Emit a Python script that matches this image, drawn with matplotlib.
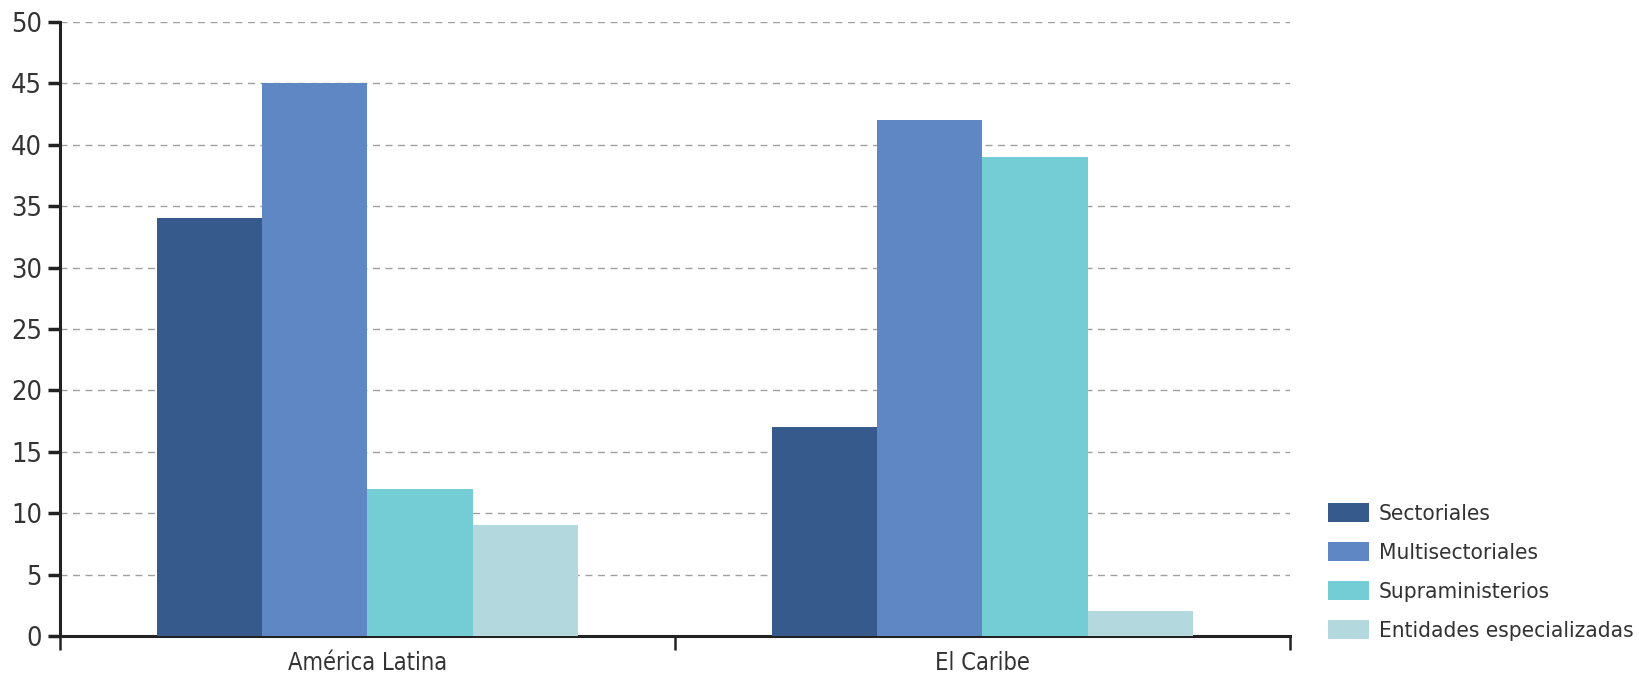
import matplotlib.pyplot as plt
import numpy as np

# Datos
regiones = ['América Latina', 'El Caribe']
series = ['Sectoriales', 'Multisectoriales', 'Supraministerios', 'Entidades especializadas']
sectoriales = [34, 17]
multisectoriales = [45, 42]
supraministerios = [12, 39]
especializadas = [9, 2]
colores = ['#375a8c', '#5e87c4', '#74cdd5', '#b3d9de']

plt.rcParams['font.family'] = ['Liberation Sans Narrow', 'DejaVu Sans']
plt.rcParams['font.stretch'] = 'condensed'

fig = plt.figure(figsize=(16.4, 6.74), dpi=100)
ax = fig.add_axes([60 / 1640, 38 / 674, 1230 / 1640, 614 / 674])

valores = [sectoriales, multisectoriales, supraministerios, especializadas]
x = np.arange(len(regiones))
ancho = 0.171
for i, (nombre, vals) in enumerate(zip(series, valores)):
    ax.bar(x + (i - 1.5) * ancho, vals, ancho, color=colores[i], label=nombre, zorder=3)

ax.set_xlim(-0.5, 1.5)
ax.set_ylim(0, 50)
ax.set_yticks(range(0, 51, 5))
ax.yaxis.grid(True, linestyle=(0, (5, 4)), color='#a0a0a0', linewidth=1, zorder=0)

# ticks del eje x en los bordes de las categorías
ax.set_xticks([-0.5, 0.5, 1.5])
ax.set_xticklabels([])
ax.set_xticks(x, minor=True)
ax.set_xticklabels(regiones, minor=True)
ax.tick_params(axis='x', which='minor', length=0, pad=11, labelsize=17, labelcolor='#333333')
ax.tick_params(axis='x', which='major', length=10, width=1.8, color='#222222')
ax.tick_params(axis='y', length=9, width=2.5, color='#222222', labelsize=19.5, labelcolor='#333333', pad=4)

for s in ['top', 'right']:
    ax.spines[s].set_visible(False)
ax.spines['left'].set_linewidth(2.2)
ax.spines['bottom'].set_linewidth(2.2)
ax.spines['left'].set_color('#222222')
ax.spines['bottom'].set_color('#222222')

fig.legend(loc='upper left', bbox_to_anchor=(1328 / 1640, 1 - 503 / 674), frameon=False,
           fontsize=16.2, borderaxespad=0, borderpad=0,
           handlelength=1.8, handleheight=0.95, labelspacing=0.78, handletextpad=0.45,
           labelcolor='#333333')

plt.savefig('out.png', dpi=100)
